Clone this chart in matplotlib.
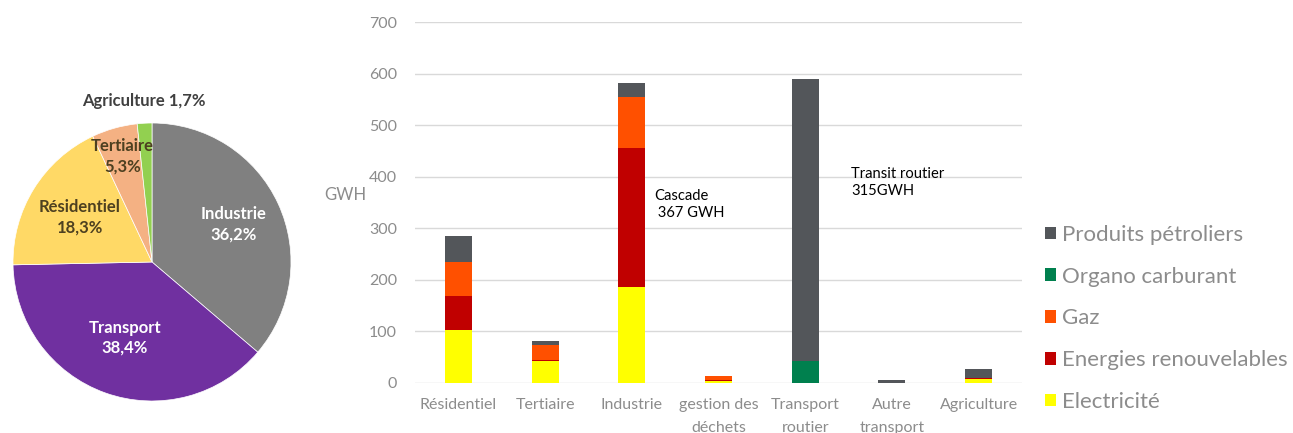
import matplotlib.pyplot as plt
import numpy as np
from matplotlib.patches import Patch

plt.rcParams["font.family"] = ["Lato", "DejaVu Sans"]

# Share of final energy consumption by sector (pie)
pie_sectors = ["Industrie", "Transport", "Résidentiel", "Tertiaire", "Agriculture"]
pie_shares = [36.2, 38.4, 18.3, 5.3, 1.7]
pie_colors = ["#808080", "#7030A0", "#FFD966", "#F4B183", "#92D050"]
pie_text_colors = ["white", "white", "#4D4020", "#4D4020", "#404040"]
pie_label_radius = [0.65, 0.58, 0.61, 0.79, 1.16]

# Consumption by sector and energy source, GWh (stacked bars)
categories = ["Résidentiel", "Tertiaire", "Industrie", "gestion des\ndéchets",
              "Transport\nroutier", "Autre\ntransport", "Agriculture"]
electricite = [102, 43, 187, 4, 0, 0, 8]
renouvelables = [66, 2, 269, 2, 0, 0, 2]
gaz = [66, 28, 98, 7, 0, 0, 0]
organo = [0, 0, 0, 0, 43, 0, 0]
petrole = [51, 8, 28, 0, 546, 5, 18]

series = [
    ("Electricité", electricite, "#FFFF00"),
    ("Energies renouvelables", renouvelables, "#C00000"),
    ("Gaz", gaz, "#FF5000"),
    ("Organo carburant", organo, "#00804E"),
    ("Produits pétroliers", petrole, "#53565A"),
]

W, H = 1293, 433
fig = plt.figure(figsize=(W / 100, H / 100), dpi=100)

# --- pie ---
ax_pie = fig.add_axes([13 / W, (H - 401) / H, 278 / W, 278 / H])
wedges, _ = ax_pie.pie(pie_shares, colors=pie_colors, startangle=90,
                       counterclock=False, radius=1,
                       wedgeprops=dict(linewidth=0.5, edgecolor="white"))
for w, name, share, tc, r in zip(wedges, pie_sectors, pie_shares,
                                 pie_text_colors, pie_label_radius):
    mid = np.deg2rad((w.theta1 + w.theta2) / 2)
    x, y = r * np.cos(mid), r * np.sin(mid)
    pct = f"{share:.1f}%".replace(".", ",")
    txt = f"{name} {pct}" if name == "Agriculture" else f"{name}\n{pct}"
    ax_pie.text(x, y, txt, ha="center", va="center", color=tc,
                fontsize=12, fontweight="bold", linespacing=1.3)
ax_pie.set_xlim(-1, 1)
ax_pie.set_ylim(-1, 1)
ax_pie.set_aspect("equal")
ax_pie.axis("off")

# --- stacked bars ---
ax = fig.add_axes([415 / W, (H - 383) / H, 607 / W, 361 / H])
x = np.arange(len(categories))
bottom = np.zeros(len(categories))
for label, vals, color in series:
    ax.bar(x, vals, bottom=bottom, width=0.31, color=color, label=label, zorder=3)
    bottom += np.array(vals)

ax.set_xlim(-0.5, len(categories) - 0.5)
ax.set_ylim(0, 700)
ax.set_yticks(range(0, 701, 100))
ax.grid(axis="y", color="#D9D9D9", linewidth=1, zorder=0)
for s in ax.spines.values():
    s.set_visible(False)
ax.tick_params(axis="both", length=0, labelsize=11.5, colors="#8C8C8C")
ax.tick_params(axis="y", pad=13)
ax.tick_params(axis="x", pad=11)
ax.set_xticks(x)
ax.set_xticklabels(categories, linespacing=1.8)
ax.set_ylabel("GWH", rotation=0, color="#8C8C8C", fontsize=12)
ax.yaxis.set_label_coords(-0.115, 0.5)

ax.text(2.26, 346, "Cascade\n 367 GWH", fontsize=10.6, color="black",
        va="center", ha="left", linespacing=1.3)
ax.text(4.53, 389, "Transit routier\n315GWH", fontsize=10.6, color="black",
        va="center", ha="left", linespacing=1.3)

handles = [Patch(facecolor=c, label=l) for l, _, c in reversed(series)]
fig.legend(handles=handles, loc="upper left", bbox_to_anchor=(1036 / W, 1 - 216 / H),
           frameon=False, fontsize=16, labelcolor="#8C8C8C",
           handlelength=0.5, handleheight=0.5, handletextpad=0.25,
           labelspacing=0.98, borderaxespad=0)

fig.savefig("out.png", dpi=100)
